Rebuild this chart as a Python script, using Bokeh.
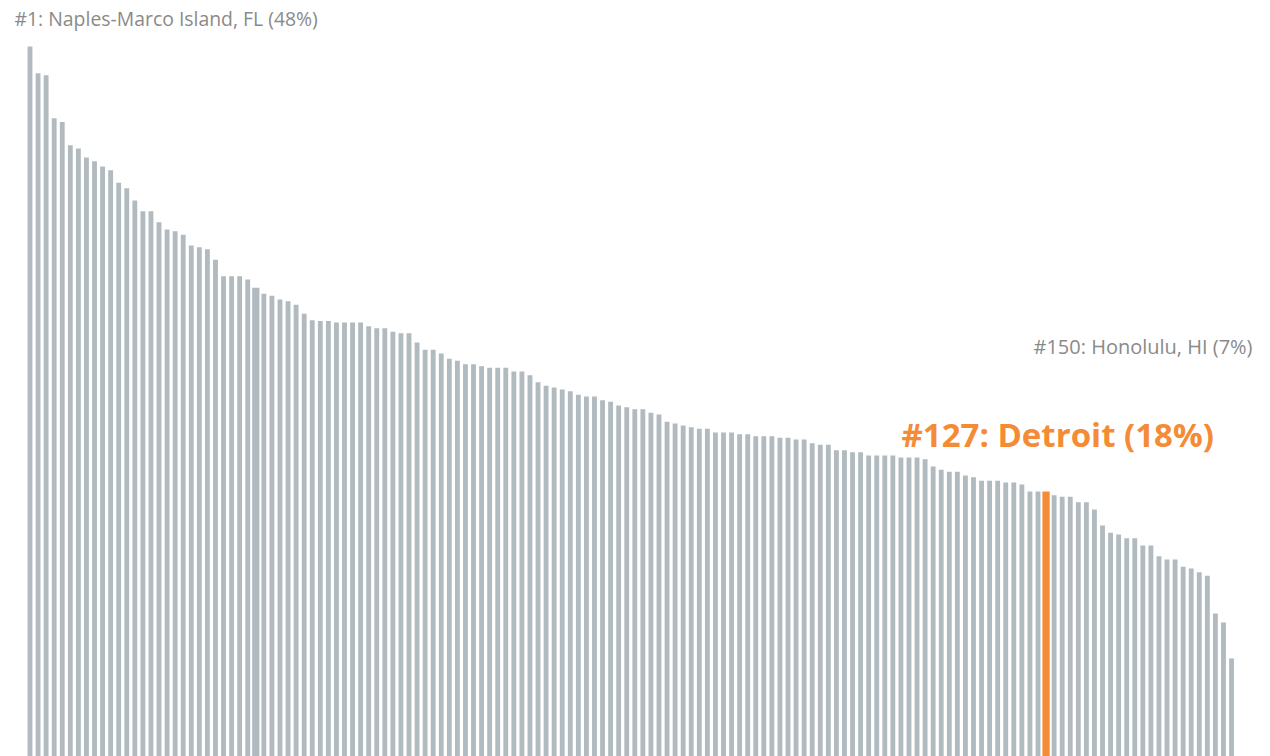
from bokeh.plotting import figure
from bokeh.models import ColumnDataSource, Range1d, Label
from bokeh.embed import file_html
from bokeh.resources import INLINE

# Share (%) for the 150 ranked metro areas, rank 1..150
values = [
    48.00, 46.21, 46.07, 43.19, 42.95, 41.39, 41.17, 40.56, 40.31, 39.96,
    39.71, 38.87, 38.51, 37.68, 36.97, 36.97, 36.23, 35.74, 35.63, 35.39,
    34.67, 34.55, 34.42, 33.71, 32.61, 32.61, 32.61, 32.39, 31.84, 31.43,
    31.30, 31.05, 30.94, 30.70, 30.09, 29.66, 29.62, 29.62, 29.51, 29.51,
    29.51, 29.51, 29.26, 29.13, 29.13, 28.89, 28.80, 28.80, 28.18, 27.68,
    27.68, 27.43, 27.08, 26.95, 26.72, 26.72, 26.58, 26.48, 26.48, 26.48,
    26.23, 26.23, 25.98, 25.51, 25.27, 25.16, 25.02, 24.91, 24.67, 24.55,
    24.55, 24.31, 24.20, 23.95, 23.84, 23.70, 23.70, 23.46, 23.35, 22.86,
    22.75, 22.61, 22.50, 22.39, 22.39, 22.14, 22.14, 22.14, 22.03, 22.03,
    21.90, 21.90, 21.90, 21.79, 21.79, 21.67, 21.67, 21.43, 21.32, 21.32,
    20.95, 20.96, 20.82, 20.82, 20.60, 20.60, 20.60, 20.60, 20.47, 20.47,
    20.47, 20.36, 19.87, 19.65, 19.51, 19.51, 19.26, 19.15, 18.91, 18.91,
    18.91, 18.79, 18.79, 18.66, 18.19, 18.19, 18.19, 17.94, 17.84, 17.84,
    17.47, 17.47, 16.99, 15.91, 15.43, 15.31, 15.06, 15.06, 14.57, 14.57,
    13.86, 13.64, 13.64, 13.15, 13.03, 12.79, 12.55, 10.02, 9.42, 7.01,
]
ranks = list(range(1, len(values) + 1))
highlight_rank = 127
wide_ranks = [29, 127]

label_top = "#1: Naples-Marco Island, FL (48%)"
label_bottom = "#150: Honolulu, HI (7%)"
label_highlight = "#127: Detroit (18%)"

GRAY = "#b0babf"
ORANGE = "#f58b34"
TEXT_GRAY = "#8a8a8a"

colors = [ORANGE if r == highlight_rank else GRAY for r in ranks]
widths = [0.9 if r in wide_ranks else 0.6 for r in ranks]

src = ColumnDataSource(dict(x=ranks, top=values, color=colors, width=widths))

W, H = 1262, 756
p = figure(width=W, height=H, output_backend="svg", toolbar_location=None,
           x_range=Range1d(-2.658, 153.84), y_range=Range1d(0.442, 51.08),
           min_border=0, outline_line_color=None)
p.axis.visible = False
p.grid.visible = False
p.background_fill_color = "white"
p.border_fill_color = "white"

p.vbar(x="x", top="top", bottom=0, width="width", source=src,
       fill_color="color", line_color=None)

p.add_layout(Label(x=14, y=H - 18, x_units="screen", y_units="screen",
                   text=label_top, text_font="Open Sans", text_font_size="19.4px",
                   text_color=TEXT_GRAY, text_baseline="alphabetic"))
p.add_layout(Label(x=1252, y=H - 346, x_units="screen", y_units="screen",
                   text=label_bottom, text_font="Open Sans", text_font_size="20px",
                   text_color=TEXT_GRAY, text_align="right",
                   text_baseline="alphabetic"))
p.add_layout(Label(x=901, y=H - 434, x_units="screen", y_units="screen",
                   text=label_highlight, text_font="Open Sans", text_font_size="33px",
                   text_font_style="bold", text_color=ORANGE,
                   text_baseline="alphabetic"))

open("out.html", "w").write(file_html(p, INLINE))
